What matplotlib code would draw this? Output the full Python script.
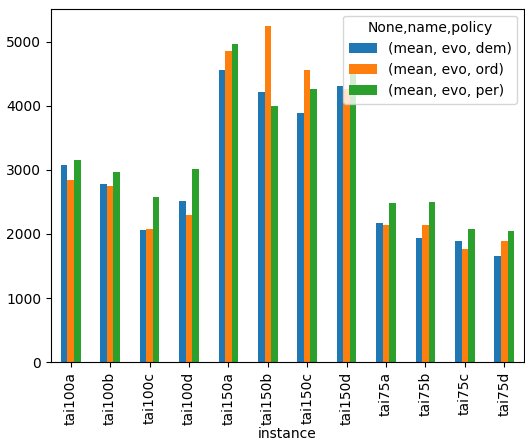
import numpy as np
import pandas as pd
import matplotlib
matplotlib.use("Agg")
import matplotlib.pyplot as plt

instances = ["tai100a", "tai100b", "tai100c", "tai100d", "tai150a", "tai150b",
             "tai150c", "tai150d", "tai75a", "tai75b", "tai75c", "tai75d"]
dem = [3070, 2774, 2058, 2510, 4563, 4206, 3880, 4300, 2168, 1935, 1888, 1655]
ord_ = [2837, 2743, 2074, 2292, 4859, 5249, 4549, 4253, 2137, 2137, 1763, 1888]
per = [3158, 2961, 2572, 3019, 4968, 3989, 4253, 4642, 2479, 2495, 2075, 2044]

cols = pd.MultiIndex.from_tuples(
    [("mean", "evo", "dem"), ("mean", "evo", "ord"), ("mean", "evo", "per")],
    names=[None, "name", "policy"])
df = pd.DataFrame(np.array([dem, ord_, per]).T,
                  index=pd.Index(instances, name="instance"), columns=cols)

fig, ax = plt.subplots(figsize=(5.25, 4.41), dpi=100)
df.plot.bar(ax=ax)
ax.set_xlabel("instance", labelpad=1)
fig.subplots_adjust(left=51/525, right=524/525, top=1-8.7/441, bottom=1-362.3/441)
fig.savefig("out.png", dpi=100)
